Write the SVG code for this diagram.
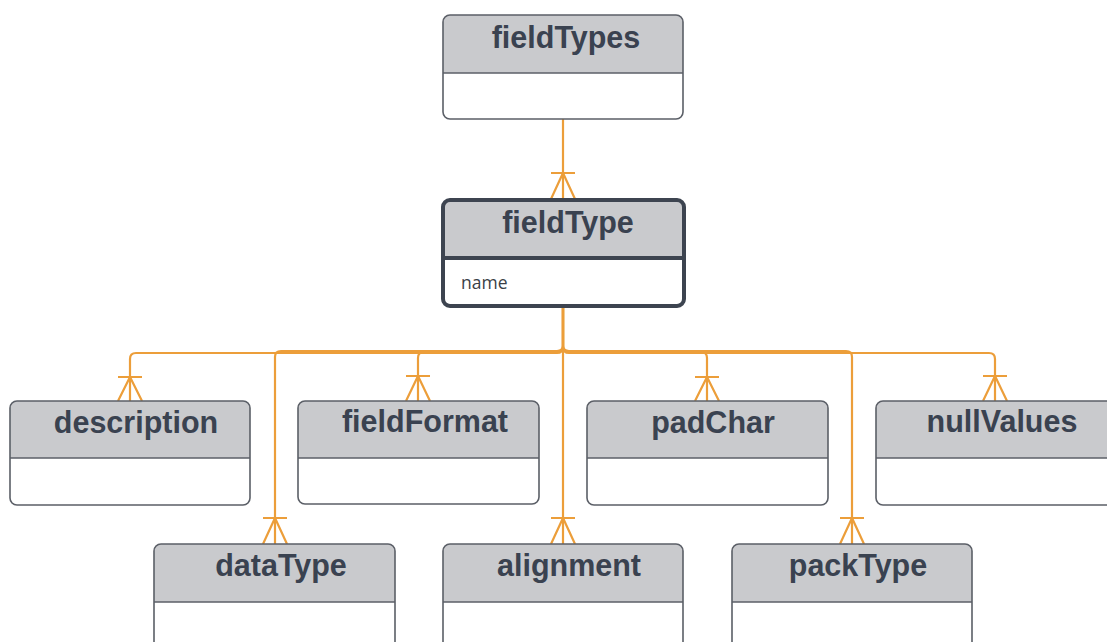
<svg xmlns="http://www.w3.org/2000/svg" width="1107" height="642" viewBox="0 0 1107 642">
<defs>
<style>
.hdr{fill:#c9cacd;}
.body{fill:#ffffff;}
.frame{fill:none;stroke:#5b5f67;stroke-width:1.6;}
.div{stroke:#5b5f67;stroke-width:1.6;}
.frameB{fill:none;stroke:#3d4450;stroke-width:4;}
.divB{stroke:#3d4450;stroke-width:4;}
.title{font-family:"Liberation Sans",Arial,sans-serif;font-weight:bold;font-size:30.5px;fill:#3a4250;text-anchor:middle;}
.attr{font-family:"Open Sans","Liberation Sans",sans-serif;font-size:17.5px;fill:#3a3f47;}
.conn{fill:none;stroke:#ec9e3a;stroke-width:2.2;stroke-linejoin:round;}
.crow{fill:none;stroke:#ec9e3a;stroke-width:2.2;}
</style>
</defs>
<rect width="1107" height="642" fill="#ffffff"/>

<g id="connectors">
<path class="conn" d="M563 119 V199"/>
<path class="crow" d="M551 173 H575 M563 173 L551 199 M563 173 L575 199"/>
<path class="conn" d="M563 307 V347 Q563 353 557 353 H136 Q130 353 130 359 V401"/>
<path class="crow" d="M118 377 H142 M130 377 L118 401 M130 377 L142 401"/>
<path class="conn" d="M563 307 V347 Q563 352 557 352 H424 Q418 352 418 358 V401"/>
<path class="crow" d="M406 376 H430 M418 376 L406 401 M418 376 L430 401"/>
<path class="conn" d="M563 307 V347 Q563 352 569 352 H701 Q707 352 707 358 V401"/>
<path class="crow" d="M695 377 H719 M707 377 L695 401 M707 377 L719 401"/>
<path class="conn" d="M563 307 V347 Q563 353 569 353 H989 Q995 353 995 359 V401"/>
<path class="crow" d="M983 376 H1007 M995 376 L983 401 M995 376 L1007 401"/>
<path class="conn" d="M563 307 V345 Q563 351 557 351 H281 Q275 351 275 357 V544"/>
<path class="crow" d="M263 518 H287 M275 518 L263 544 M275 518 L287 544"/>
<path class="conn" d="M563 307 V544"/>
<path class="crow" d="M551 518 H575 M563 518 L551 544 M563 518 L575 544"/>
<path class="conn" d="M563 307 V345 Q563 351 569 351 H846 Q852 351 852 357 V544"/>
<path class="crow" d="M840 518 H864 M852 518 L840 544 M852 518 L864 544"/>
</g>

<g id="fieldTypes">
<rect class="body" x="443" y="15" width="240" height="104" rx="7"/>
<path class="hdr" d="M450 15 H676 Q683 15 683 22 V73 H443 V22 Q443 15 450 15 Z"/>
<line class="div" x1="443" y1="73" x2="683" y2="73"/>
<rect class="frame" x="443" y="15" width="240" height="104" rx="7"/>
<text class="title" x="566" y="48">fieldTypes</text>
</g>

<g id="fieldType">
<rect class="body" x="443" y="200" width="241" height="106" rx="7"/>
<path class="hdr" d="M450 200 H677 Q684 200 684 207 V258 H443 V207 Q443 200 450 200 Z"/>
<line class="divB" x1="443" y1="258" x2="684" y2="258"/>
<rect class="frameB" x="443" y="200" width="241" height="106" rx="7"/>
<text class="title" x="568" y="233">fieldType</text>
<text class="attr" x="461" y="289">name</text>
</g>

<g id="description">
<rect class="body" x="10" y="401" width="240" height="104" rx="7"/>
<path class="hdr" d="M17 401 H243 Q250 401 250 408 V458 H10 V408 Q10 401 17 401 Z"/>
<line class="div" x1="10" y1="458" x2="250" y2="458"/>
<rect class="frame" x="10" y="401" width="240" height="104" rx="7"/>
<text class="title" x="136" y="433">description</text>
</g>

<g id="fieldFormat">
<rect class="body" x="298" y="401" width="241" height="103" rx="7"/>
<path class="hdr" d="M305 401 H532 Q539 401 539 408 V458 H298 V408 Q298 401 305 401 Z"/>
<line class="div" x1="298" y1="458" x2="539" y2="458"/>
<rect class="frame" x="298" y="401" width="241" height="103" rx="7"/>
<text class="title" x="425" y="432">fieldFormat</text>
</g>

<g id="padChar">
<rect class="body" x="587" y="401" width="241" height="104" rx="7"/>
<path class="hdr" d="M594 401 H821 Q828 401 828 408 V458 H587 V408 Q587 401 594 401 Z"/>
<line class="div" x1="587" y1="458" x2="828" y2="458"/>
<rect class="frame" x="587" y="401" width="241" height="104" rx="7"/>
<text class="title" x="713" y="433">padChar</text>
</g>

<g id="nullValues">
<rect class="body" x="876" y="401" width="241" height="104" rx="7"/>
<path class="hdr" d="M883 401 H1110 Q1117 401 1117 408 V458 H876 V408 Q876 401 883 401 Z"/>
<line class="div" x1="876" y1="458" x2="1117" y2="458"/>
<rect class="frame" x="876" y="401" width="241" height="104" rx="7"/>
<text class="title" x="1002" y="432">nullValues</text>
</g>

<g id="dataType">
<rect class="body" x="154" y="544" width="241" height="110" rx="7"/>
<path class="hdr" d="M161 544 H388 Q395 544 395 551 V602 H154 V551 Q154 544 161 544 Z"/>
<line class="div" x1="154" y1="602" x2="395" y2="602"/>
<rect class="frame" x="154" y="544" width="241" height="110" rx="7"/>
<text class="title" x="281" y="576">dataType</text>
</g>

<g id="alignment">
<rect class="body" x="443" y="544" width="240" height="110" rx="7"/>
<path class="hdr" d="M450 544 H676 Q683 544 683 551 V602 H443 V551 Q443 544 450 544 Z"/>
<line class="div" x1="443" y1="602" x2="683" y2="602"/>
<rect class="frame" x="443" y="544" width="240" height="110" rx="7"/>
<text class="title" x="569" y="576">alignment</text>
</g>

<g id="packType">
<rect class="body" x="732" y="544" width="240" height="110" rx="7"/>
<path class="hdr" d="M739 544 H965 Q972 544 972 551 V602 H732 V551 Q732 544 739 544 Z"/>
<line class="div" x1="732" y1="602" x2="972" y2="602"/>
<rect class="frame" x="732" y="544" width="240" height="110" rx="7"/>
<text class="title" x="858" y="576">packType</text>
</g>
</svg>
